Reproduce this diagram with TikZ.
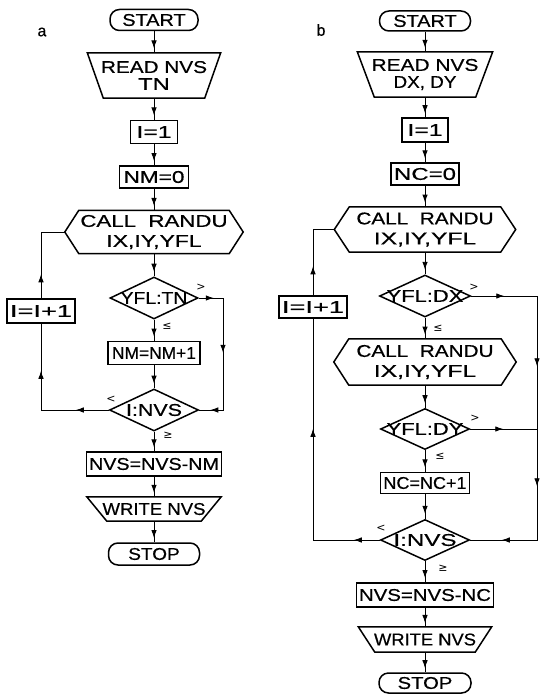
\documentclass[tikz,border=0pt]{standalone}
\usepackage{fontspec}
\setmainfont{Liberation Sans}[FakeBold=0.5]
\newfontfamily\relfont{DejaVu Sans}
\usepackage{graphicx}
\usetikzlibrary{arrows.meta,decorations.markings,shapes.geometric}

\tikzset{
  shp/.style={line width=1.5pt, line join=miter},
  txtnode/.style={inner sep=0pt, font=\fontsize{17}{17}\selectfont, align=center},
  boxnode/.style={txtnode, draw, line width=1.5pt, fill=white},
  termnode/.style={txtnode, draw, line width=1.5pt, rounded corners=9.5pt},
  dia/.style={diamond, draw, line width=1.5pt, inner sep=0pt},
  conn/.style={line width=0.9pt},
  arr/.style={postaction={decorate, decoration={markings, mark=at position #1 with {\arrow{Latex[length=8pt,width=5.5pt]}}}}},
  rel/.style={font=\relfont\fontsize{11}{11}\selectfont, inner sep=0pt},
  panlab/.style={font=\fontsize{16}{16}\selectfont, inner sep=0pt},
}
\newcommand\hexout[2]{\draw[shp] (#1.north west) -- (#1.north east) -- ([xshift=#2]#1.east) -- (#1.south east) -- (#1.south west) -- ([xshift=-#2]#1.west) -- cycle;}
\newcommand\trapout[2]{\draw[shp] (#1.north west) -- (#1.north east) -- ([xshift=-#2]#1.south east) -- ([xshift=#2]#1.south west) -- cycle;}

\begin{document}
\begin{tikzpicture}[x=1pt,y=-1pt]
\fill[white] (0,0) rectangle (540,695);
\useasboundingbox (0,0) rectangle (540,695);

% ---------------- panel a ----------------
\node[panlab] (labA) at (42,32) {a};
\node[termnode, minimum width=88pt, minimum height=21pt] (startA) at (154,20) {\scalebox{1.17}[1]{START}};
\node[txtnode, minimum width=133pt, minimum height=45pt] (readA) at (154,75.5) {\scalebox{1.22}[1]{READ NVS}\\\scalebox{1.4}[1]{TN}};
\trapout{readA}{16pt}
\node[boxnode, minimum width=47pt, minimum height=23pt] (i1A) at (154,132) {\scalebox{1.45}[1]{I=1}};
\node[boxnode, minimum width=69pt, minimum height=22pt] (nm0A) at (154,177) {\scalebox{1.33}[1]{NM=0}};
\node[txtnode, minimum width=150pt, minimum height=43pt] (hexA) at (154,232) {\scalebox{1.31}[1]{CALL\ \ RANDU}\\[3pt]\scalebox{1.35}[1]{IX,IY,YFL}};
\hexout{hexA}{14pt}
\coordinate (hexAL) at ([xshift=-14pt]hexA.west);
\node[dia, minimum width=88pt, minimum height=42pt] (dn1A) at (154,298) {};
\node[txtnode] (dn1At) at (dn1A) {\scalebox{1.14}[1]{YFL:TN}};
\node[boxnode, minimum width=92pt, minimum height=23pt] (nmA) at (154,353) {\scalebox{1.02}[1]{NM=NM+1}};
\node[dia, minimum width=89pt, minimum height=42pt] (dn2A) at (154,410) {};
\node[txtnode] (dn2At) at (dn2A) {\scalebox{1.26}[1]{I:NVS}};
\node[boxnode, minimum width=135pt, minimum height=24pt] (nvsA) at (154,464) {\scalebox{1.16}[1]{NVS=NVS-NM}};
\node[txtnode, minimum width=134pt, minimum height=24pt] (writeA) at (154,509) {\scalebox{1.09}[1]{WRITE NVS}};
\trapout{writeA}{20pt}
\node[termnode, minimum width=91pt, minimum height=22pt] (stopA) at (154,554) {\scalebox{1.12}[1]{STOP}};
\node[boxnode, minimum width=68pt, minimum height=24pt] (incA) at (41,311) {\scalebox{1.6}[1]{I=I+1}};

\draw[conn, arr=0.8] (startA.south) -- (readA.north);
\draw[conn, arr=0.8] (readA.south) -- (i1A.north);
\draw[conn, arr=0.8] (i1A.south) -- (nm0A.north);
\draw[conn, arr=0.8] (nm0A.south) -- (hexA.north);
\draw[conn, arr=0.8] (hexA.south) -- (dn1A.north);
\draw[conn, arr=0.8] (dn1A.south) -- (nmA.north);
\draw[conn, arr=0.8] (nmA.south) -- (dn2A.north);
\draw[conn, arr=0.8] (dn2A.south) -- (nvsA.north);
\draw[conn, arr=0.8] (nvsA.south) -- (writeA.north);
\draw[conn, arr=0.8] (writeA.south) -- (stopA.north);

\coordinate (la1) at (41,410);
\coordinate (la2) at (41,232);
\draw[conn, arr=33pt, arr=107pt] (dn2A.west) -- (la1) -- (incA.south);
\draw[conn, arr=24pt] (incA.north) -- (la2) -- (hexAL);

\coordinate (ra1) at (223,298);
\coordinate (ra2) at (223,410);
\draw[conn, arr=15pt, arr=79pt, arr=149pt] (dn1A.east) -- (ra1) -- (ra2) -- (dn2A.east);

\node[rel] (gtA1) at (201,287) {>};
\node[rel] (leA1) at (167,326) {≤};
\node[rel] (ltA2) at (111,399) {<};
\node[rel] (geA2) at (168,435) {≥};

% ---------------- panel b ----------------
\node[panlab] (labB) at (321,30) {b};
\node[termnode, minimum width=91pt, minimum height=20pt] (startB) at (425,21) {\scalebox{1.17}[1]{START}};
\node[txtnode, minimum width=135pt, minimum height=45pt] (readB) at (425,74.5) {\scalebox{1.23}[1]{READ NVS}\\\scalebox{1.11}[1]{DX, DY}};
\trapout{readB}{17pt}
\node[boxnode, minimum width=46pt, minimum height=24pt] (i1B) at (425,130) {\scalebox{1.45}[1]{I=1}};
\node[boxnode, minimum width=68pt, minimum height=22pt] (nc0B) at (425,174) {\scalebox{1.41}[1]{NC=0}};
\node[txtnode, minimum width=151pt, minimum height=45pt] (hex1B) at (425,229.5) {\scalebox{1.22}[1]{CALL\ \ RANDU}\\[3pt]\scalebox{1.45}[1]{IX,IY,YFL}};
\hexout{hex1B}{15pt}
\coordinate (hex1BL) at ([xshift=-15pt]hex1B.west);
\node[dia, minimum width=91pt, minimum height=42pt] (dxB) at (425,296) {};
\node[txtnode] (dxBt) at (dxB) {\scalebox{1.29}[1]{YFL:DX}};
\node[txtnode, minimum width=152pt, minimum height=46pt] (hex2B) at (425,362) {\scalebox{1.22}[1]{CALL\ \ RANDU}\\[3pt]\scalebox{1.45}[1]{IX,IY,YFL}};
\hexout{hex2B}{15pt}
\node[dia, minimum width=89pt, minimum height=41pt] (dyB) at (425,429) {};
\node[txtnode] (dyBt) at (dyB) {\scalebox{1.29}[1]{YFL:DY}};
\node[boxnode, minimum width=89pt, minimum height=21pt] (ncB) at (425,483) {\scalebox{1.06}[1]{NC=NC+1}};
\node[dia, minimum width=89pt, minimum height=41pt] (dn3B) at (425,540) {};
\node[txtnode] (dn3Bt) at (dn3B) {\scalebox{1.42}[1]{I:NVS}};
\node[boxnode, minimum width=137pt, minimum height=24pt] (nvsB) at (425,595) {\scalebox{1.2}[1]{NVS=NVS-NC}};
\node[txtnode, minimum width=133pt, minimum height=25pt] (writeB) at (425,639.5) {\scalebox{1.08}[1]{WRITE NVS}};
\trapout{writeB}{16.5pt}
\node[termnode, minimum width=92pt, minimum height=20pt] (stopB) at (425,683) {\scalebox{1.19}[1]{STOP}};
\node[boxnode, minimum width=68pt, minimum height=22pt] (incB) at (313,307) {\scalebox{1.6}[1]{I=I+1}};

\draw[conn, arr=0.8] (startB.south) -- (readB.north);
\draw[conn, arr=0.8] (readB.south) -- (i1B.north);
\draw[conn, arr=0.8] (i1B.south) -- (nc0B.north);
\draw[conn, arr=0.8] (nc0B.south) -- (hex1B.north);
\draw[conn, arr=0.8] (hex1B.south) -- (dxB.north);
\draw[conn, arr=0.8] (dxB.south) -- (hex2B.north);
\draw[conn, arr=0.8] (hex2B.south) -- (dyB.north);
\draw[conn, arr=0.8] (dyB.south) -- (ncB.north);
\draw[conn, arr=0.8] (ncB.south) -- (dn3B.north);
\draw[conn, arr=0.8] (dn3B.south) -- (nvsB.north);
\draw[conn, arr=0.8] (nvsB.south) -- (writeB.north);
\draw[conn, arr=0.8] (writeB.south) -- (stopB.north);

\coordinate (lb1) at (313,540);
\coordinate (lb2) at (313,229.5);
\draw[conn, arr=26pt, arr=178pt] (dn3B.west) -- (lb1) -- (incB.south);
\draw[conn, arr=29pt] (incB.north) -- (lb2) -- (hex1BL);

\coordinate (rb1) at (537,296);
\coordinate (rb2) at (537,429);
\coordinate (rb3) at (537,540);
\draw[conn, arr=33pt, arr=136pt, arr=256pt, arr=345pt] (dxB.east) -- (rb1) -- (rb3) -- (dn3B.east);
\draw[conn, arr=33pt] (dyB.east) -- (rb2);

\node[rel] (gtB1) at (474,287) {>};
\node[rel] (leB1) at (438,328) {≤};
\node[rel] (gtB2) at (475,418) {>};
\node[rel] (leB2) at (440,456) {≤};
\node[rel] (ltB3) at (381,528) {<};
\node[rel] (geB3) at (443,568) {≥};
\end{tikzpicture}
\end{document}
